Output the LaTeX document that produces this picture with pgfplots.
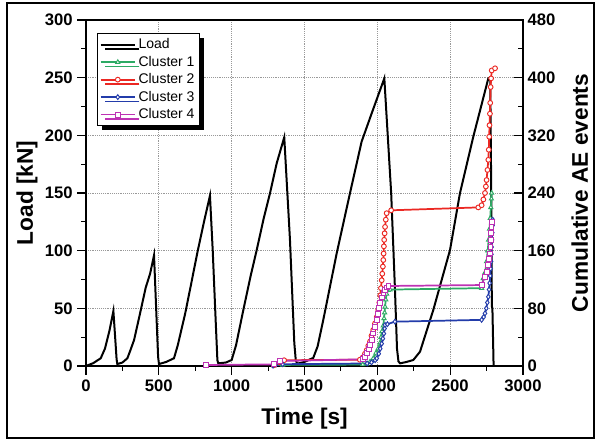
\documentclass[border=0pt]{standalone}
\usepackage{pgfplots}
\pgfplotsset{compat=1.18}
\usepackage{fontspec}
\setmainfont{Liberation Sans}
\usetikzlibrary{shadows}
\definecolor{cgreen}{RGB}{45,170,100}
\definecolor{cred}{RGB}{235,40,35}
\definecolor{cblue}{RGB}{35,60,170}
\definecolor{cmag}{RGB}{190,50,180}
\tikzset{cl/.style={line width=1.3pt, mark size=1.8pt, mark options={fill=white, solid, line width=0.7pt}}}
\begin{document}
\begin{tikzpicture}
\path[use as bounding box] (-64.5pt,-57.75pt) rectangle (385.5pt,274.5pt);
\begin{axis}[
  at={(0,0)}, anchor=south west, scale only axis,
  width=327.75pt, height=259.5pt,
  xmin=0, xmax=3000, ymin=0, ymax=300,
  xtick={0,500,...,3000}, ytick={0,50,...,300},
  minor x tick num=1, minor y tick num=1,
  tick align=outside, xtick pos=left, ytick pos=left,
  major tick length=6.5pt, minor tick length=3.5pt,
  grid=major, grid style={densely dotted, gray!80, line width=0.6pt},
  axis line style={line width=0.9pt},
  tick style={line width=0.8pt, black},
  ticklabel style={font=\bfseries\fontsize{12.5}{12.5}\selectfont},
  /pgf/number format/assume math mode=true,
  /pgf/number format/1000 sep={},
  xlabel={Time [s]}, ylabel={Load [kN]},
  label style={font=\bfseries\fontsize{17}{17}\selectfont},
  xlabel style={at={(axis description cs:0.5,-0.153)}, anchor=center},
  ylabel style={at={(axis description cs:-0.135,0.5)}, anchor=center},
]
\addplot[black, line width=1.5pt] coordinates {
(0,0)(50,2.5)(101,6.7)(130,15)(160,30)(188,47.7)(200,25)(210,6)(215,1.7)(250,3)(284,6.7)
(300,12)(330,22.5)(370,45)(410,68)(440,80)(467,96)(480,55)(495,8)(501,1.7)(550,3.5)(604,6.7)
(630,18)(680,45)(720,70)(764,98)(810,125)(851,147.7)(870,100)(890,40)(902,5)(908,2.3)(960,3)(1000,5.2)
(1030,18)(1080,48.5)(1130,78)(1172,100.6)(1220,128)(1263,149.7)(1309,175.7)(1361,198.3)
(1400,110)(1430,20)(1440,5)(1450,2)(1500,3.5)(1538,5.8)
(1560,7)(1590,17)(1629,40)(1721,97.7)(1812,149.7)(1892,194.5)(1961,219)(2048,249.4)
(2095,150)(2120,70)(2135,15)(2145,4)(2156,2.3)(2200,3.5)(2247,5.2)
(2293,12.4)(2384,48.5)(2499,100.6)(2567,149.7)(2659,198.9)(2762,249.4)(2775,250)
(2782,150)(2786,52)(2790,50)(2798,1)
};
\end{axis}
\begin{axis}[
  at={(0,0)}, anchor=south west, scale only axis,
  width=327.75pt, height=259.5pt,
  xmin=0, xmax=3000, ymin=0, ymax=480,
  axis x line=none, axis y line*=right,
  ytick={0,80,...,480}, minor y tick num=1,
  tick align=inside,
  major tick length=6.5pt, minor tick length=3.5pt,
  axis line style={line width=0.9pt},
  tick style={line width=0.8pt, black},
  ticklabel style={font=\bfseries\fontsize{12.5}{12.5}\selectfont},
  /pgf/number format/assume math mode=true,
  ylabel={Cumulative AE events},
  label style={font=\bfseries\fontsize{17}{17}\selectfont},
  ylabel style={at={(axis description cs:1.13,0.5)}, anchor=center},
  legend image code/.code={\draw[mark repeat=2,mark phase=2,#1] plot coordinates {(0cm,0cm) (0.45cm,0cm) (0.9cm,0cm)};},
  legend cell align=left,
  legend style={at={(axis description cs:0.025,0.962)}, anchor=north west,
    font=\fontsize{10.5}{11.5}\selectfont, draw=black, line width=0.6pt, fill=white,
    inner sep=1.8pt, row sep=0pt,
    drop shadow={shadow xshift=3.3pt, shadow yshift=-3.3pt, fill=black, opacity=1}},
]
\addlegendimage{black, line width=1.5pt}
\addlegendentry{Load}
\addplot[cgreen, cl, mark=triangle*] coordinates {
(1290,0.5)(1350,1.5)(1900,2)(1927,3)(1950,6)(1972,10.6)(1990,18)(2005,24)(2018,32)(2025,40)
(2032,48)(2041,56)(2046,66)(2050,74)(2053,82)(2058,92)(2064,100)(2075,105)(2087,106)
(2716,108)(2727,121.6)(2740,130)(2750,145)(2758,160)(2764,175)(2770,190)(2775,205)(2779,220)(2783,232)(2785,240)
};
\addlegendentry{Cluster 1}
\addplot[cred, cl, mark=*] coordinates {
(1290,1)(1330,5)(1360,8)(1880,8.7)(1900,12)(1915,17)(1927,22)(1938,28)(1950,34)(1960,42)
(1972,50)(1984,59)(1996,68)(2006,78)(2014,88)(2020,98)(2025,108)(2030,119)(2034,128)(2038,138)
(2041,147)(2043,156)(2045,166)(2047,175)(2050,184)(2053,193)(2058,203)(2064,212)(2095,216)
(2693,220)(2716,223)(2728,231)(2739,240)(2745,249)(2750,258)(2756,272)(2762,286)(2765,300)
(2768,318)(2770,334)(2773,350)(2775,365)(2778,387)(2781,399)(2785,410)(2808,413)
};
\addlegendentry{Cluster 2}
\addplot[cblue, cl, mark=diamond*] coordinates {
(1284,0.5)(1350,2.5)(1930,3.5)(1960,5)(1985,8)(1996,10.6)(2010,17)(2020,24)(2030,31)(2038,38)
(2045,45)(2050,52)(2053,57)(2069,58)(2121,61.5)(2716,64)(2730,68)(2739,73)(2748,80)(2755,88)
(2762,96)(2767,106)(2771,115)(2775,125)(2778,135)(2781,145)(2783,155)(2785,165)(2787,175)
(2789,185)(2791,195)(2792,203)
};
\addlegendentry{Cluster 3}
\addplot[cmag, cl, mark=square*] coordinates {
(824,1.4)(1290,2.3)(1332,6.9)(1904,9.3)(1916,13)(1927,17.6)(1940,24)(1950,29)(1961,36)(1972,45)
(1985,54)(1996,64)(2005,72)(2012,80)(2018,87)(2030,95)(2042,101)(2053,105)(2064,109)(2076,111)
(2716,112.3)(2739,124)(2750,131)(2762,140)(2768,148)(2773,156)(2777,165)(2780,175)(2782,185)
(2784,193)(2785,200)
};
\addlegendentry{Cluster 4}
\end{axis}
\draw[line width=1.5pt] (-59.25pt,-54pt) rectangle (381pt,272.25pt);
\end{tikzpicture}
\end{document}
